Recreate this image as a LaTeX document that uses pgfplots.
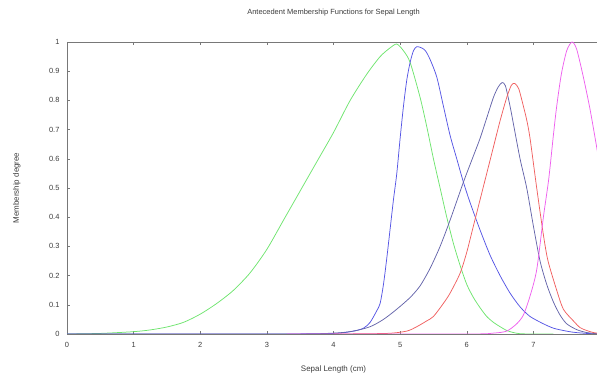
\documentclass[border=0pt]{standalone}
\usepackage{fontspec}
\setmainfont{Liberation Sans}
\usepackage{pgfplots}
\pgfplotsset{compat=1.18}
\definecolor{cgreen}{RGB}{110,228,110}
\definecolor{cblue}{RGB}{85,85,228}
\definecolor{cdark}{RGB}{100,100,170}
\definecolor{cred}{RGB}{240,95,95}
\definecolor{cmag}{RGB}{238,95,238}
\definecolor{axgray}{RGB}{120,120,120}
\definecolor{txt}{RGB}{60,60,60}
\begin{document}
\begin{tikzpicture}
\clip (0,0) rectangle (597bp,376bp);
\begin{axis}[
  at={(67bp,42bp)}, anchor=south west,
  scale only axis, width=533bp, height=292bp,
  xmin=0, xmax=8, ymin=0, ymax=1,
  xtick={0,1,...,7},
  ytick={0,0.1,0.2,0.3,0.4,0.5,0.6,0.7,0.8,0.9,1},
  yticklabels={0,0.1,0.2,0.3,0.4,0.5,0.6,0.7,0.8,0.9,1},
  tick align=inside, major tick length=3bp,
  axis line style={axgray, line width=0.6pt},
  tick style={axgray, line width=0.5pt},
  /pgf/number format/assume math mode=true,
  ticklabel style={font=\fontsize{7.5}{8}\selectfont, text=txt},
  yticklabel style={xshift=-4bp},
  xticklabel style={yshift=-5bp},
  title={Antecedent Membership Functions for Sepal Length},
  title style={font=\fontsize{7.5}{8}\selectfont, text=txt, at={(axis description cs:0.5,1.082)}, anchor=center},
  xlabel={Sepal Length (cm)},
  ylabel={Membership degree},
  xlabel style={font=\fontsize{8}{9}\selectfont, text=txt, at={(axis description cs:0.5,-0.123)}, anchor=center},
  ylabel style={font=\fontsize{8}{9}\selectfont, text=txt, at={(axis description cs:-0.094,0.5)}, anchor=center},
  every axis plot/.append style={line width=0.75pt},
]
% green
\addplot[cgreen, smooth, tension=0.45] coordinates {
(0,0) (0.5,0.002) (1.0,0.008) (1.25,0.014) (1.5,0.024) (1.75,0.040) (2.0,0.068)
(2.25,0.105) (2.5,0.15) (2.75,0.21) (3.0,0.29) (3.25,0.39) (3.5,0.49) (3.75,0.59)
(4.0,0.69) (4.25,0.80) (4.5,0.89) (4.7,0.95) (4.85,0.98) (4.95,0.993) (5.05,0.97)
(5.15,0.93) (5.3,0.81) (5.4,0.71) (5.5,0.60) (5.6,0.50) (5.7,0.40) (5.8,0.31)
(5.9,0.235) (6.0,0.17) (6.1,0.125) (6.2,0.09) (6.3,0.06) (6.4,0.04) (6.5,0.025)
(6.6,0.012) (6.7,0.005) (6.8,0.001) (7.0,0) (7.3,0)};
% blue
\addplot[cblue, smooth, tension=0.45] coordinates {
(0,0) (3.0,0) (4.0,0.002) (4.3,0.01) (4.45,0.02) (4.55,0.04) (4.65,0.08) (4.7,0.105)
(4.75,0.17) (4.8,0.26) (4.85,0.36) (4.9,0.46) (4.95,0.55) (5.0,0.67) (5.05,0.78)
(5.1,0.87) (5.15,0.93) (5.2,0.97) (5.25,0.984) (5.32,0.98) (5.38,0.97) (5.45,0.94)
(5.55,0.88) (5.65,0.78) (5.75,0.68) (5.85,0.60) (5.95,0.52) (6.05,0.45) (6.2,0.356)
(6.35,0.27) (6.5,0.20) (6.65,0.14) (6.8,0.093) (6.95,0.06) (7.15,0.035) (7.3,0.02)
(7.45,0.012) (7.6,0.006) (7.8,0.002) (8.0,0)};
% dark blue
\addplot[cdark, smooth, tension=0.45] coordinates {
(0,0) (3.3,0) (4.0,0.003) (4.3,0.01) (4.55,0.025) (4.75,0.05) (4.95,0.085) (5.15,0.125)
(5.3,0.165) (5.45,0.225) (5.6,0.30) (5.75,0.39) (5.95,0.52) (6.1,0.61) (6.2,0.67)
(6.3,0.74) (6.4,0.81) (6.47,0.845) (6.53,0.861) (6.58,0.85) (6.65,0.78) (6.7,0.72)
(6.8,0.60) (6.9,0.50) (7.0,0.37) (7.1,0.25) (7.2,0.17) (7.3,0.11) (7.4,0.065)
(7.5,0.035) (7.65,0.015) (7.8,0.005) (8.0,0)};
% red
\addplot[cred, smooth, tension=0.45] coordinates {
(4.0,0) (4.8,0.002) (5.1,0.01) (5.25,0.025) (5.4,0.045) (5.5,0.06) (5.65,0.105)
(5.75,0.14) (5.9,0.208) (6.0,0.28) (6.1,0.37) (6.2,0.46) (6.3,0.55) (6.4,0.64)
(6.5,0.73) (6.6,0.81) (6.67,0.852) (6.72,0.858) (6.78,0.84) (6.85,0.78) (6.9,0.733)
(6.95,0.67) (7.05,0.50) (7.15,0.34) (7.22,0.25) (7.35,0.15) (7.45,0.085) (7.6,0.045)
(7.7,0.022) (7.8,0.012) (7.9,0.005) (8.0,0.002)};
% magenta
\addplot[cmag, smooth, tension=0.45] coordinates {
(3.3,0) (6.0,0) (6.4,0.003) (6.6,0.01) (6.75,0.035) (6.85,0.065) (6.95,0.13)
(7.05,0.22) (7.15,0.40) (7.23,0.53) (7.3,0.68) (7.35,0.78) (7.42,0.89) (7.5,0.97)
(7.58,1.0) (7.65,0.975) (7.75,0.88) (7.85,0.77) (7.95,0.64) (8.0,0.57)};
\end{axis}
\end{tikzpicture}
\end{document}
